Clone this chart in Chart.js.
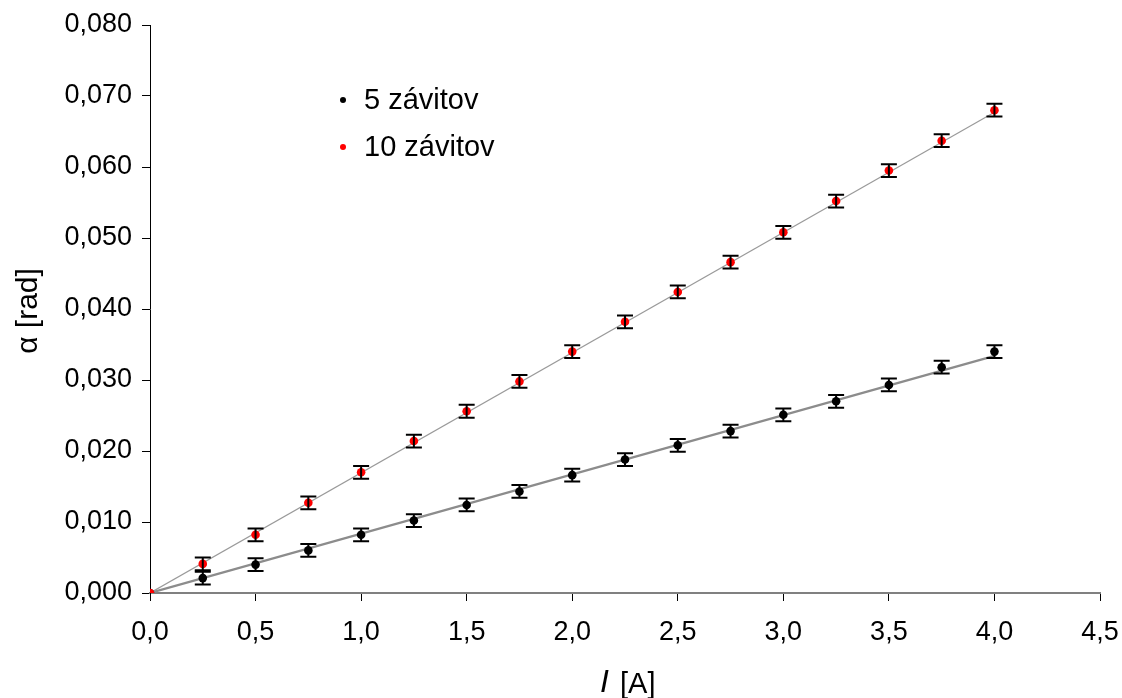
<!DOCTYPE html>
<html><head><meta charset="utf-8">
<script src="https://cdn.jsdelivr.net/npm/chart.js@4.4.0/dist/chart.umd.min.js"></script>
<style>html,body{margin:0;padding:0;background:#fff}#w{width:1122px;height:698px}</style>
</head><body><div id="w"><canvas id="c"></canvas></div>
<script>
const currents = [0, 0.25, 0.5, 0.75, 1.0, 1.25, 1.5, 1.75, 2.0, 2.25, 2.5, 2.75, 3.0, 3.25, 3.5, 3.75, 4.0];
const alpha5 = [0, 0.0021, 0.0040, 0.0060, 0.0082, 0.0102, 0.0124, 0.0143, 0.0166, 0.0188, 0.0208, 0.0228, 0.0251, 0.0270, 0.0293, 0.0318, 0.0340];
const alpha10 = [0, 0.0041, 0.0082, 0.0127, 0.0170, 0.0214, 0.0256, 0.0298, 0.0340, 0.0382, 0.0424, 0.0466, 0.0508, 0.0552, 0.0595, 0.0637, 0.0680];
const errAlpha = 0.0009;
const fit5 = [[0, 0], [4.0, 0.0334]];
const fit10 = [[0, 0], [4.0, 0.0677]];
const seriesNames = ['5 závitov', '10 závitov'];
const xTicks = [0, 0.5, 1, 1.5, 2, 2.5, 3, 3.5, 4, 4.5];
const yTicks = [0, 0.01, 0.02, 0.03, 0.04, 0.05, 0.06, 0.07, 0.08];

const pts = (xs, ys) => xs.map((x, i) => ({x, y: ys[i]}));
const FONT = '"Liberation Sans", Arial, sans-serif';

const errorBars = {
  id: 'errorBars',
  afterDatasetsDraw(chart) {
    const {ctx, scales: {x, y}} = chart;
    ctx.save();
    ctx.strokeStyle = '#000';
    ctx.lineWidth = 2;
    chart.data.datasets.forEach(ds => {
      if (!ds.errBars) return;
      ds.data.forEach(p => {
        if (p.x === 0) return;
        const px = x.getPixelForValue(p.x);
        const y1 = y.getPixelForValue(p.y - errAlpha);
        const y2 = y.getPixelForValue(p.y + errAlpha);
        ctx.beginPath();
        ctx.moveTo(px, y1); ctx.lineTo(px, y2);
        ctx.moveTo(px - 8, y1); ctx.lineTo(px + 8, y1);
        ctx.moveTo(px - 8, y2); ctx.lineTo(px + 8, y2);
        ctx.stroke();
      });
    });
    ctx.restore();
  }
};

const decor = {
  id: 'decor',
  afterDraw(chart) {
    const {ctx} = chart;
    ctx.save();
    const lg = [{c: '#000', t: seriesNames[0], y: 100}, {c: '#f00', t: seriesNames[1], y: 147}];
    ctx.font = '29px ' + FONT;
    ctx.textBaseline = 'middle';
    ctx.textAlign = 'left';
    lg.forEach(l => {
      ctx.fillStyle = l.c;
      ctx.beginPath(); ctx.arc(343, l.y, 3, 0, Math.PI * 2); ctx.fill();
      ctx.fillStyle = '#000';
      ctx.fillText(l.t, 364, l.y + 1);
    });
    ctx.save();
    ctx.translate(29, 311);
    ctx.rotate(-Math.PI / 2);
    ctx.textAlign = 'center';
    ctx.textBaseline = 'middle';
    ctx.font = '30px ' + FONT;
    ctx.fillText('α [rad]', 0, 0);
    ctx.restore();
    ctx.textAlign = 'left';
    ctx.textBaseline = 'alphabetic';
    ctx.font = 'italic 32px ' + FONT;
    ctx.fillText('I', 600, 692);
    ctx.font = '29px ' + FONT;
    ctx.fillText('[A]', 620, 693);
    ctx.restore();
  }
};

new Chart(document.getElementById('c'), {
  type: 'scatter',
  data: {
    datasets: [
      {label: 'fit5', type: 'line', data: fit5.map(p => ({x: p[0], y: p[1]})), borderColor: '#8c8c8c', borderWidth: 2.2, pointRadius: 0, fill: false, order: 3},
      {label: 'fit10', type: 'line', data: fit10.map(p => ({x: p[0], y: p[1]})), borderColor: '#9a9a9a', borderWidth: 1.2, pointRadius: 0, fill: false, order: 3},
      {label: seriesNames[0], data: pts(currents, alpha5), backgroundColor: '#000', borderColor: '#000', pointRadius: 4.3, borderWidth: 0, errBars: true, order: 2},
      {label: seriesNames[1], data: pts(currents, alpha10), backgroundColor: '#f00', borderColor: '#f00', pointRadius: 4.3, borderWidth: 0, errBars: true, order: 1}
    ]
  },
  options: {
    responsive: true,
    maintainAspectRatio: false,
    animation: false,
    events: [],
    layout: {padding: {top: 25, right: 22, left: 0, bottom: 0}},
    plugins: {legend: {display: false}, tooltip: {enabled: false}},
    scales: {
      x: {
        type: 'linear', min: 0, max: 4.5,
        afterBuildTicks: s => { s.ticks = xTicks.map(v => ({value: v})); },
        afterFit: s => { s.height = 105; s.paddingLeft = 0; s.paddingRight = 0; },
        ticks: {color: '#000', font: {size: 27, family: FONT}, padding: 15, maxRotation: 0,
          callback: v => v.toFixed(1).replace('.', ',')},
        grid: {drawOnChartArea: false, drawTicks: true, tickLength: 8, color: '#000', tickWidth: 1},
        border: {display: true, color: '#808080', width: 2}
      },
      y: {
        type: 'linear', min: 0, max: 0.08,
        afterBuildTicks: s => { s.ticks = yTicks.map(v => ({value: v})); },
        afterFit: s => { s.width = 150; s.paddingTop = 0; s.paddingBottom = 0; },
        ticks: {color: '#000', font: {size: 27, family: FONT}, padding: 10,
          callback: v => v.toFixed(3).replace('.', ',')},
        grid: {drawOnChartArea: false, drawTicks: true, tickLength: 8, color: '#000', tickWidth: 1},
        border: {display: true, color: '#000', width: 1}
      }
    }
  },
  plugins: [errorBars, decor]
});
</script>
</body></html>
